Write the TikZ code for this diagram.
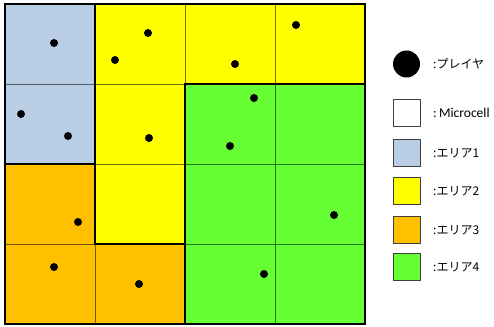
\documentclass[tikz,border=0pt]{standalone}
\usepackage{fontspec}
\setmainfont{Noto Sans CJK JP}
\newfontfamily\latinfont{Carlito}
\begin{document}
\begin{tikzpicture}[x=1pt,y=-1pt,
  gridline/.style={draw=black,draw opacity=0.55,line width=0.6pt},
  regionline/.style={draw=black,line width=1.1pt,line join=miter},
  player/.style={circle,fill=black,inner sep=0pt,minimum size=8pt},
  legbox/.style={draw=black!75,line width=0.8pt,minimum width=27pt,minimum height=27pt,inner sep=0pt},
  legtext/.style={anchor=west,inner sep=0pt,font=\fontsize{12}{14}\selectfont}]
\definecolor{areaone}{RGB}{185,205,229}
\definecolor{areatwo}{RGB}{255,255,0}
\definecolor{areathree}{RGB}{255,192,0}
\definecolor{areafour}{RGB}{102,255,51}
\useasboundingbox (0,0) rectangle (494,326);
% region fills
\fill[areaone] (5,4) rectangle (95,164);
\fill[areatwo] (95,4) -- (365,4) -- (365,84) -- (185,84) -- (185,244) -- (95,244) -- cycle;
\fill[areathree] (5,164) -- (95,164) -- (95,244) -- (185,244) -- (185,324) -- (5,324) -- cycle;
\fill[areafour] (185,84) rectangle (365,324);
% cell grid
\foreach \x in {95,185,275} \draw[gridline] (\x,4) -- (\x,324);
\foreach \y in {84,164,244} \draw[gridline] (5,\y) -- (365,\y);
% region outlines
\draw[regionline] (5,4) rectangle (95,164);
\draw[regionline] (95,4) -- (365,4) -- (365,84) -- (185,84) -- (185,244) -- (95,244) -- cycle;
\draw[regionline] (5,164) -- (95,164) -- (95,244) -- (185,244) -- (185,324) -- (5,324) -- cycle;
\draw[regionline] (185,84) rectangle (365,324);
% players
\node[player] (p1) at (54,43) {};
\node[player] (p2) at (148,33) {};
\node[player] (p3) at (115,60) {};
\node[player] (p4) at (21,114) {};
\node[player] (p5) at (68,136) {};
\node[player] (p6) at (149,138) {};
\node[player] (p7) at (296,25) {};
\node[player] (p8) at (235,64) {};
\node[player] (p9) at (254,98) {};
\node[player] (p10) at (230,146) {};
\node[player] (p11) at (78,222) {};
\node[player] (p12) at (54,267) {};
\node[player] (p13) at (139,284) {};
\node[player] (p14) at (334,215) {};
\node[player] (p15) at (264,274) {};
% legend
\node[circle,fill=black,inner sep=0pt,minimum size=27pt] (lp) at (406.5,64) {};
\node[legtext] (tp) at (433,64) {:プレイヤ};
\node[legbox,fill=white] (lm) at (406.5,113) {};
\node[legtext,font=\latinfont\fontsize{13.5}{15}\selectfont] (tm) at (433,113) {:\,Microcell};
\node[legbox,fill=areaone] (l1) at (406.5,153) {};
\node[legtext] (t1) at (433,153) {:エリア1};
\node[legbox,fill=areatwo] (l2) at (406.5,191) {};
\node[legtext] (t2) at (433,191) {:エリア2};
\node[legbox,fill=areathree] (l3) at (406.5,230) {};
\node[legtext] (t3) at (433,230) {:エリア3};
\node[legbox,fill=areafour] (l4) at (406.5,267) {};
\node[legtext] (t4) at (433,267) {:エリア4};
\end{tikzpicture}
\end{document}
